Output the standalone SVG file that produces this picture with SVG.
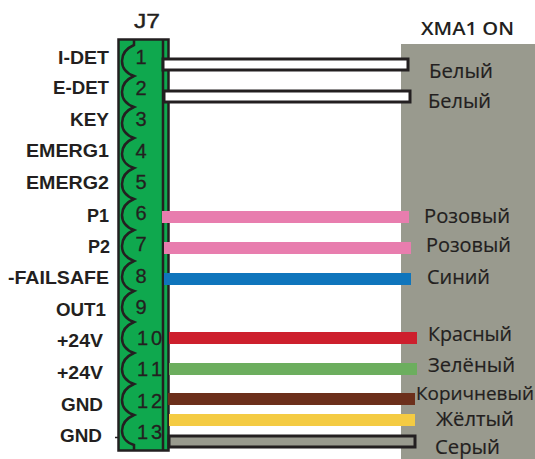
<svg xmlns="http://www.w3.org/2000/svg" width="535" height="459" viewBox="0 0 535 459">
<style>
.l{font:bold 18px "Liberation Sans",sans-serif;fill:#231f20}
.n{font:20px "Liberation Sans",sans-serif;fill:#231f20;stroke:#231f20;stroke-width:.3}
.c{font:20px "Open Sans","Liberation Sans",sans-serif;fill:#231f20;stroke:#231f20;stroke-width:.2}
.o{fill:#fff;stroke:#231f20;stroke-width:3}
.s{fill:none;stroke:#231f20;stroke-width:2.5}
</style>
<rect id="panel" x="401" y="44" width="134" height="415" fill="#999a8e"/>
<g id="J7">
<rect x="118.500" y="39.500" width="50" height="411" fill="#0fa84e" stroke="#231f20" stroke-width="2.500"/>
<path class="s" d="M163 39V450"/>
<path class="s" d="M134 39V45C118 52 118 70 134 76C118 83 118 101 134 107C118 114 118 132 134 138C118 145 118 163 134 168C118 175 118 193 134 199C118 206 118 224 134 230C118 237 118 255 134 261C118 268 118 286 134 291C118 298 118 316 134 322C118 329 118 347 134 353C118 360 118 378 134 384C118 391 118 409 134 415C118 422 118 440 134 445V451"/>
<path d="M115 437.500H118" stroke="#231f20" stroke-width="1.500"/>
<g text-anchor="middle">
<text class="n" x="141" y="64">1</text><text class="n" x="141" y="95">2</text><text class="n" x="141" y="126">3</text><text class="n" x="141" y="158">4</text><text class="n" x="141" y="189">5</text><text class="n" x="141" y="220">6</text><text class="n" x="141" y="251">7</text><text class="n" x="141" y="283">8</text><text class="n" x="141" y="314">9</text></g>
<text class="n" x="137" y="345" textLength="25">10</text><text class="n" x="137" y="376" textLength="25">11</text><text class="n" x="137" y="408" textLength="25">12</text><text class="n" x="137" y="439" textLength="25">13</text>
<text x="134" y="28" textLength="26" lengthAdjust="spacingAndGlyphs" style="font:21px 'Liberation Sans',sans-serif;fill:#231f20;stroke:#231f20;stroke-width:.4">J7</text>
</g>
<g id="labels">
<text class="l" x="58" y="64" textLength="51" lengthAdjust="spacingAndGlyphs">I-DET</text>
<text class="l" x="53" y="94" textLength="56" lengthAdjust="spacingAndGlyphs">E-DET</text>
<text class="l" x="70" y="126" textLength="39" lengthAdjust="spacingAndGlyphs">KEY</text>
<text class="l" x="26" y="157" textLength="83" lengthAdjust="spacingAndGlyphs">EMERG1</text>
<text class="l" x="26" y="189" textLength="83" lengthAdjust="spacingAndGlyphs">EMERG2</text>
<text class="l" x="87" y="222" textLength="22" lengthAdjust="spacingAndGlyphs">P1</text>
<text class="l" x="88" y="253" textLength="22" lengthAdjust="spacingAndGlyphs">P2</text>
<text class="l" x="8" y="284" textLength="101" lengthAdjust="spacingAndGlyphs">-FAILSAFE</text>
<text class="l" x="56" y="316" textLength="50" lengthAdjust="spacingAndGlyphs">OUT1</text>
<text class="l" x="57" y="347" textLength="46" lengthAdjust="spacingAndGlyphs">+24V</text>
<text class="l" x="57" y="379" textLength="46" lengthAdjust="spacingAndGlyphs">+24V</text>
<text class="l" x="61" y="411" textLength="42" lengthAdjust="spacingAndGlyphs">GND</text>
<text class="l" x="60" y="442" textLength="42" lengthAdjust="spacingAndGlyphs">GND</text>
<text x="421" y="35" textLength="93" lengthAdjust="spacingAndGlyphs" style="font:600 18px 'Open Sans','Liberation Sans',sans-serif;fill:#231f20">XMA1 ON</text>
</g>
<g id="connectors">
<rect class="o" x="163" y="59" width="245" height="11"/>
<rect class="o" x="164" y="91" width="246" height="11"/>
<rect x="162" y="211" width="247" height="12" fill="#e87dae"/>
<rect x="164" y="242" width="247" height="12" fill="#e87dae"/>
<rect x="164" y="273" width="247" height="12" fill="#0f75bc"/>
<rect x="169" y="332" width="248" height="12" fill="#cd1f2d"/>
<rect x="169" y="363" width="248" height="12" fill="#6cae5e"/>
<rect x="168" y="393" width="247" height="12" fill="#6c2f1b"/>
<rect x="169" y="414" width="246" height="12" fill="#f4cb43"/>
<rect x="169" y="436" width="246" height="11" fill="#999a8e" stroke="#231f20" stroke-width="3"/>
</g>
<g id="wire-labels">
<text class="c" x="429" y="78" textLength="64" lengthAdjust="spacingAndGlyphs">Белый</text>
<text class="c" x="428" y="108" textLength="63" lengthAdjust="spacingAndGlyphs">Белый</text>
<text class="c" x="424" y="223" textLength="86" lengthAdjust="spacingAndGlyphs">Розовый</text>
<text class="c" x="426" y="252" textLength="85" lengthAdjust="spacingAndGlyphs">Розовый</text>
<text class="c" x="427" y="284" textLength="63" lengthAdjust="spacingAndGlyphs">Синий</text>
<text class="c" x="428" y="341" textLength="84" lengthAdjust="spacingAndGlyphs">Красный</text>
<text class="c" x="428" y="372" textLength="87" lengthAdjust="spacingAndGlyphs">Зелёный</text>
<text class="c" x="416" y="400" style="font-size:19px" textLength="118" lengthAdjust="spacingAndGlyphs">Коричневый</text>
<text class="c" x="436" y="426" textLength="78" lengthAdjust="spacingAndGlyphs">Жёлтый</text>
<text class="c" x="435" y="453.500" textLength="65" lengthAdjust="spacingAndGlyphs">Серый</text>
</g>
</svg>
